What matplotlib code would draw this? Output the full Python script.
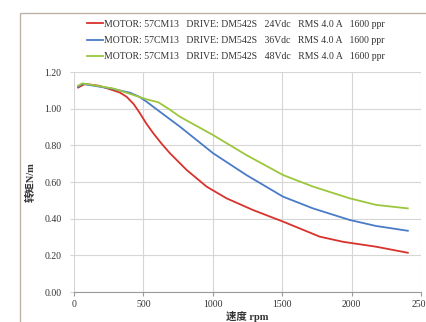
import matplotlib
matplotlib.use("Agg")
import matplotlib.pyplot as plt
from matplotlib.patches import Rectangle

plt.rcParams['font.family'] = ['Liberation Serif', 'Noto Sans CJK SC']

# ── data ─────────────────────────────────────────────────────────────────────
rpm_24 = [30, 79, 180, 259, 330, 379, 430, 475, 520, 571, 630, 691, 811, 955, 1099, 1290, 1506, 1770, 1937, 2177, 2405]
tq_24 = [1.115, 1.135, 1.125, 1.106, 1.088, 1.065, 1.025, 0.975, 0.92, 0.866, 0.81, 0.757, 0.666, 0.575, 0.511, 0.447, 0.384, 0.302, 0.274, 0.247, 0.214]

rpm_36 = [30, 60, 259, 403, 470, 523, 619, 763, 1002, 1242, 1506, 1722, 1986, 2177, 2405]
tq_36 = [1.12, 1.135, 1.111, 1.087, 1.065, 1.038, 0.983, 0.902, 0.757, 0.638, 0.52, 0.456, 0.393, 0.36, 0.334]

rpm_48 = [30, 60, 283, 427, 523, 607, 680, 763, 1002, 1242, 1506, 1722, 1986, 2177, 2405]
tq_48 = [1.125, 1.138, 1.11, 1.075, 1.051, 1.035, 1.0, 0.956, 0.856, 0.747, 0.638, 0.575, 0.511, 0.475, 0.456]

labels = [
    "MOTOR: 57CM13   DRIVE: DM542S   24Vdc   RMS 4.0 A   1600 ppr",
    "MOTOR: 57CM13   DRIVE: DM542S   36Vdc   RMS 4.0 A   1600 ppr",
    "MOTOR: 57CM13   DRIVE: DM542S   48Vdc   RMS 4.0 A   1600 ppr",
]
colors = ["#d8322c", "#4a7bc8", "#9cc63c"]
x_ticks = [0, 500, 1000, 1500, 2000, 2500]
y_ticks = [0.0, 0.2, 0.4, 0.6, 0.8, 1.0, 1.2]

fig = plt.figure(figsize=(4.26, 3.22), dpi=100)
fig.patches.append(Rectangle((20 / 426, -0.05), 1.0, (322 - 13) / 322 + 0.05,
                             transform=fig.transFigure, fill=False,
                             edgecolor="#bdb2a8", linewidth=1.0))

ax = fig.add_axes([74 / 426, 30 / 322, 347 / 426, 220 / 322])
for xs, ys, c, lab in zip([rpm_24, rpm_36, rpm_48], [tq_24, tq_36, tq_48], colors, labels):
    ax.plot(xs, ys, color=c, linewidth=1.3, label=lab)

ax.set_xlim(0, 2500)
ax.set_ylim(0, 1.2)
ax.set_xticks(x_ticks)
ax.set_yticks(y_ticks)
ax.set_yticklabels([f"{v:.2f}" for v in y_ticks])
ax.grid(True, color="#d6d6d6", linewidth=0.8)
for s in ["top", "right", "left"]:
    ax.spines[s].set_visible(False)
ax.spines["bottom"].set_color("#9a9a9a")
ax.tick_params(axis="x", length=3, color="#9a9a9a", labelsize=7, labelcolor="#333333", pad=3)
ax.tick_params(axis="y", length=3, color="#d6d6d6", labelsize=7, labelcolor="#333333", pad=6)

ax.set_xlabel("速度 rpm", fontsize=7.5, fontweight="bold", color="#333333", labelpad=1)
ax.set_ylabel("转矩N/m", fontsize=7.5, fontweight="bold", color="#333333", labelpad=6)

fig.legend(loc="center", bbox_to_anchor=(236 / 426, 1 - 40.5 / 322), frameon=False,
           fontsize=7, handlelength=1.7, handletextpad=0.1, labelspacing=0.75,
           labelcolor="#333333")

fig.savefig("out.png", dpi=100)
